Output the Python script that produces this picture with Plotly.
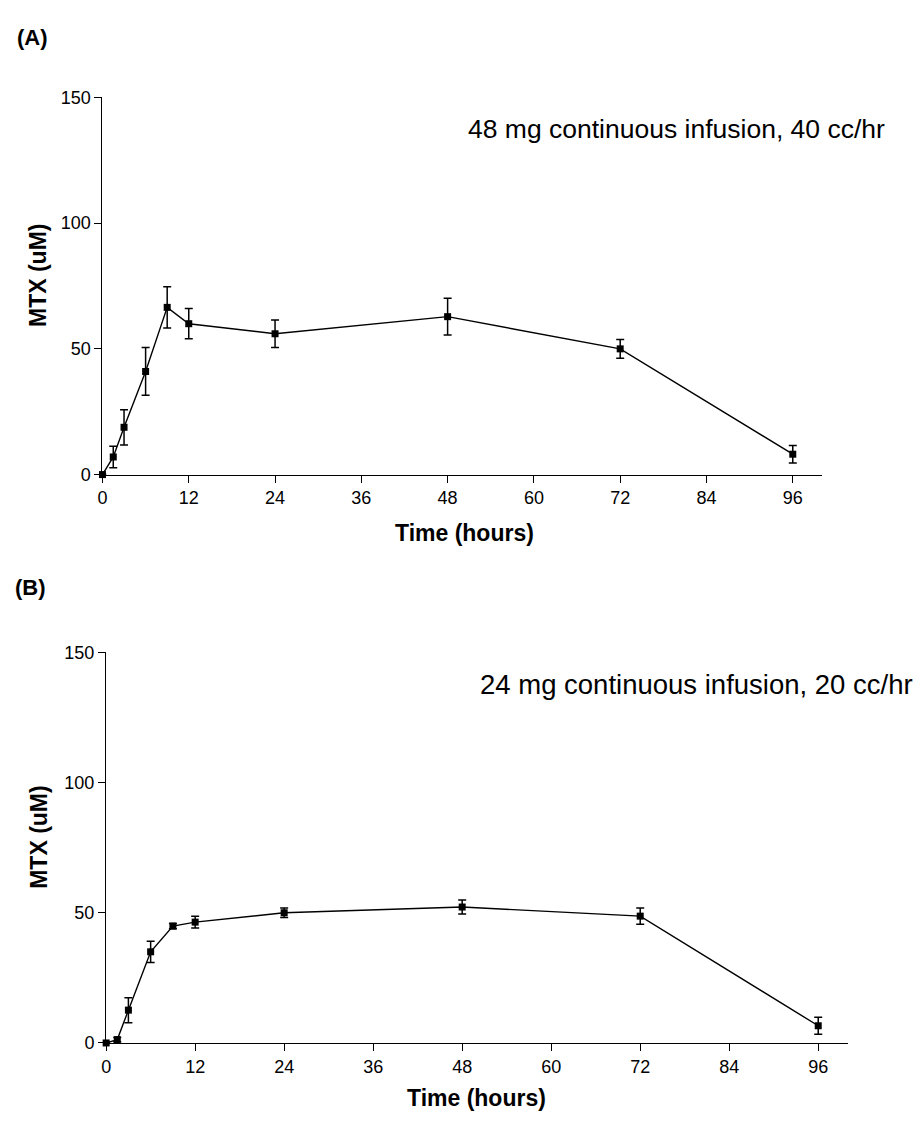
import plotly.graph_objects as go

# ---- data ----
time_h = [0, 1.5, 3, 6, 9, 12, 24, 48, 72, 96]
mtx_a = [0, 7.0, 18.8, 41.0, 66.5, 60.0, 56.0, 62.8, 50.0, 8.1]
err_a = [0, 4.3, 7.0, 9.5, 8.2, 6.0, 5.5, 7.3, 3.7, 3.5]
mtx_b = [0, 1.3, 12.6, 35.0, 44.9, 46.4, 50.0, 52.2, 48.7, 6.6]
err_b = [0, 0.8, 4.8, 4.1, 1.0, 2.3, 1.8, 2.7, 3.1, 3.3]
x_ticks = [0, 12, 24, 36, 48, 60, 72, 84, 96]
y_ticks = [0, 50, 100, 150]
label_a = "48 mg continuous infusion, 40 cc/hr"
label_b = "24 mg continuous infusion, 20 cc/hr"

W, H = 920, 1122
FONT = "Arial, Liberation Sans, sans-serif"


def px_x(p):
    return p / W


def px_y(p):
    return 1 - p / H


fig = go.Figure()

for y, err, xa, ya in [(mtx_a, err_a, "x", "y"), (mtx_b, err_b, "x2", "y2")]:
    fig.add_trace(go.Scatter(
        x=time_h, y=y, xaxis=xa, yaxis=ya, mode="lines+markers",
        line=dict(color="black", width=1.4),
        marker=dict(symbol="square", size=7, color="black"),
        error_y=dict(type="data", array=err, visible=True, color="black",
                     thickness=1.5, width=4),
        cliponaxis=False, showlegend=False,
    ))

axis_common = dict(
    showline=True, linecolor="black", linewidth=1.3,
    ticks="outside", ticklen=7, tickwidth=1.3, tickcolor="black",
    showgrid=False, zeroline=False,
    tickfont=dict(family=FONT, size=18, color="black"),
)

fig.update_layout(
    width=W, height=H,
    margin=dict(l=0, r=0, t=0, b=0),
    plot_bgcolor="white", paper_bgcolor="white",
    xaxis=dict(domain=[px_x(98), px_x(821)], range=[0, 100], tickvals=x_ticks,
               anchor="y", **axis_common),
    yaxis=dict(domain=[px_y(473), px_y(89)], range=[0, 150], tickvals=y_ticks,
               anchor="x", **axis_common),
    xaxis2=dict(domain=[px_x(101.7), px_x(847.5)], range=[0, 100], tickvals=x_ticks,
                anchor="y2", **axis_common),
    yaxis2=dict(domain=[px_y(1051.7), px_y(654)], range=[0, 150], tickvals=y_ticks,
                anchor="x2", **axis_common),
)

ann = []
# panel letters
ann.append(dict(text="<b>(A)</b>", x=px_x(10), y=px_y(28), xanchor="left", yanchor="middle",
                font=dict(family=FONT, size=22, color="black")))
ann.append(dict(text="<b>(B)</b>", x=px_x(8), y=px_y(588), xanchor="left", yanchor="middle",
                font=dict(family=FONT, size=22, color="black")))
# condition labels
ann.append(dict(text=label_a, x=px_x(887), y=px_y(121), xanchor="right", yanchor="middle",
                font=dict(family=FONT, size=26.5, color="black")))
ann.append(dict(text=label_b, x=px_x(915), y=px_y(687), xanchor="right", yanchor="middle",
                font=dict(family=FONT, size=27.5, color="black")))
# axis titles
ann.append(dict(text="<b>MTX (uM)</b>", x=px_x(33), y=px_y(270), textangle=-90,
                xanchor="center", yanchor="middle",
                font=dict(family=FONT, size=23, color="black")))
ann.append(dict(text="<b>MTX (uM)</b>", x=px_x(34), y=px_y(842), textangle=-90,
                xanchor="center", yanchor="middle",
                font=dict(family=FONT, size=23, color="black")))
ann.append(dict(text="<b>Time (hours)</b>", x=px_x(462), y=px_y(532),
                xanchor="center", yanchor="middle",
                font=dict(family=FONT, size=23, color="black")))
ann.append(dict(text="<b>Time (hours)</b>", x=px_x(474), y=px_y(1108),
                xanchor="center", yanchor="middle",
                font=dict(family=FONT, size=23, color="black")))
for a in ann:
    a.update(xref="paper", yref="paper", showarrow=False)
fig.update_layout(annotations=ann)

fig.write_html(
    "out.html",
    config={"displayModeBar": False},
    post_script="document.body.style.margin='0';document.body.style.overflow='hidden';",
)
